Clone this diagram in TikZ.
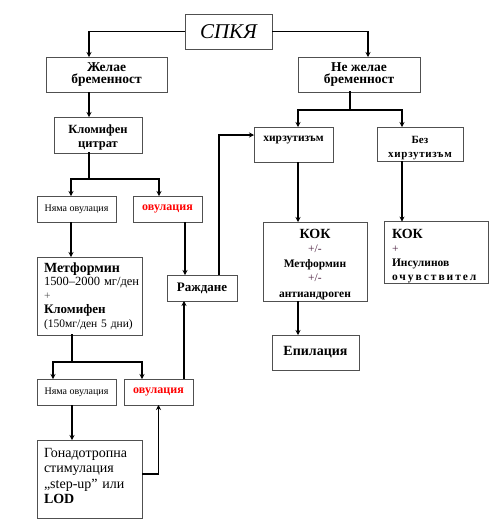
\documentclass[tikz,border=0pt]{standalone}
\usepackage{fontspec}
\setmainfont{Liberation Serif}
\usetikzlibrary{arrows.meta}
\definecolor{boxgray}{HTML}{505050}
\definecolor{ovred}{HTML}{FF0000}
\definecolor{plusc}{HTML}{4A1F3F}
\newcommand{\fs}[2]{\fontsize{#1}{#2}\selectfont}
\begin{document}
\begin{tikzpicture}[x=1pt,y=-1pt,
  box/.style={draw=boxgray, line width=0.8pt, inner sep=0pt, outer sep=0pt, align=center},
  ln/.style={line width=1.4pt, line cap=rect},
  arr/.style={line width=1.4pt, -{Stealth[length=5pt,width=5pt]}}]
\useasboundingbox (0,0) rectangle (500,523);
% boxes
\node[box, minimum width=87pt, minimum height=35pt, font={\fs{21}{24}\itshape}] (spkj) at (228.5,31.5) {СПКЯ};
\node[box, minimum width=121pt, minimum height=35pt, font={\fs{13.5}{12.5}\bfseries}] (zhel) at (106.5,74.5) {Желае\\ бременност};
\node[box, minimum width=122pt, minimum height=35pt, font={\fs{13.5}{12.5}\bfseries}] (nezhel) at (359,74.5) {Не желае\\ бременност};
\node[box, minimum width=88pt, minimum height=36pt, font={\fs{12.5}{14}\bfseries}] (klom) at (98,135) {\rule{0pt}{14.3pt}Кломифен\\ цитрат};
\node[box, minimum width=79pt, minimum height=26pt, font={\fs{10}{10}}] (nyama1) at (76.5,209) {Няма овулация};
\node[box, minimum width=69pt, minimum height=26pt, font={\fs{12}{12}\bfseries}, text=ovred] (ov1) at (167.5,209) {овулация};
\node[box, minimum width=105pt, minimum height=78pt, text width=91pt, align=left, font={\fs{11.5}{13.8}}] (metf) at (89.5,296) {\mbox{\fs{14}{13.8}\bfseries Метформин}\\ \mbox{\fs{12.5}{13.8}1500–2000 мг/ден}\\ {\color{boxgray}+}\\ \mbox{\fs{13}{13.8}\bfseries Кломифен}\\ \mbox{(150мг/ден 5 дни)}};
\node[box, minimum width=70pt, minimum height=26pt, font={\fs{13}{13}\bfseries}] (razh) at (202,288) {Раждане};
\node[box, minimum width=79pt, minimum height=35pt, font={\fs{11.5}{12}\bfseries}] (hirz) at (293.5,144.5) {\rule[-12pt]{0pt}{0pt}хирзутизъм};
\node[box, minimum width=86pt, minimum height=34pt, font={\fs{11}{14}\bfseries}] (bez) at (420,144) {\rule{0pt}{15.3pt}Без\\ {\addfontfeature{LetterSpace=6}хирзутизъм}};
\node[box, minimum width=104pt, minimum height=79pt, text width=100pt, align=center, font={\fs{11.5}{14.5}}] (kok1) at (315,261.5) {\rule{0pt}{15.3pt}{\fs{14}{14.5}\bfseries КОК}\\ {\color{plusc}+/-}\\ {\bfseries Метформин}\\ {\color{plusc}+/-}\\[1.5pt] {\bfseries антиандроген}};
\node[box, minimum width=104pt, minimum height=61pt, text width=88pt, align=left, font={\fs{11.5}{14}}] (kok2) at (436,252.5) {\rule{0pt}{17.3pt}{\fs{14}{14}\bfseries КОК}\\ {\color{plusc}+}\\ {\bfseries Инсулинов}\\ {\bfseries\addfontfeature{LetterSpace=17}очувствител}};
\node[box, minimum width=87pt, minimum height=35pt, font={\fs{14}{14}\bfseries}] (epil) at (315.5,352.5) {Епилация};
\node[box, minimum width=79pt, minimum height=26pt, font={\fs{10}{10}}] (nyama2) at (76.5,392) {Няма овулация};
\node[box, minimum width=69pt, minimum height=26pt, font={\fs{12}{12}\bfseries}, text=ovred] (ov2) at (158.5,392) {овулация};
\node[box, minimum width=105pt, minimum height=78pt, text width=91pt, align=left, font={\fs{14}{15.3}}] (gonad) at (89.5,479) {Гонадотропна\\ стимулация\\ „step-up” или\\ \textbf{LOD}\rule[-6pt]{0pt}{0pt}};
% branch points
\coordinate (b1) at (89,179);
\coordinate (b2) at (350,110);
\coordinate (b3) at (72,362);
% connectors
\draw[arr] (spkj.west) -| ([xshift=-17.5pt]zhel.north);
\draw[arr] (spkj.east) -| ([xshift=9pt]nezhel.north);
\draw[arr] ([xshift=-17.5pt]zhel.south) -- ([xshift=-17.5pt]zhel.south |- klom.north);
\draw[ln] ([xshift=-9pt]klom.south) -- (b1);
\draw[arr] (b1) -| ([xshift=-5.5pt]nyama1.north);
\draw[arr] (b1) -| ([xshift=-8.5pt]ov1.north);
\draw[arr] ([xshift=-5.5pt]nyama1.south) -- ([xshift=-5.5pt]nyama1.south |- metf.north);
\draw[arr] ([xshift=17.5pt]ov1.south) -- ([xshift=17.5pt]ov1.south |- razh.north);
\draw[arr] ([xshift=17pt]razh.north) |- ([yshift=9.5pt]hirz.west);
\draw[ln] ([xshift=-9pt]nezhel.south) -- (b2);
\draw[arr] (b2) -| ([xshift=4.5pt]hirz.north);
\draw[arr] (b2) -| ([xshift=-18pt]bez.north);
\draw[arr] ([xshift=4.5pt]hirz.south) -- ([xshift=4.5pt]hirz.south |- kok1.north);
\draw[arr] ([xshift=-18pt]bez.south) -- ([xshift=-18pt]bez.south |- kok2.north);
\draw[arr] ([xshift=-17pt]kok1.south) -- ([xshift=-17pt]kok1.south |- epil.north);
\draw[ln] ([xshift=-17.5pt]metf.south) -- (b3);
\draw[arr] (b3) -| ([xshift=-23.5pt]nyama2.north);
\draw[arr] (b3) -| ([xshift=-16.5pt]ov2.north);
\draw[arr] ([xshift=25.5pt]ov2.north) -- ([xshift=25.5pt]ov2.north |- razh.south);
\draw[arr] ([xshift=-4.5pt]nyama2.south) -- ([xshift=-4.5pt]nyama2.south |- gonad.north);
\draw[arr] ([yshift=5pt]gonad.east) -| (ov2.south);
\end{tikzpicture}
\end{document}
